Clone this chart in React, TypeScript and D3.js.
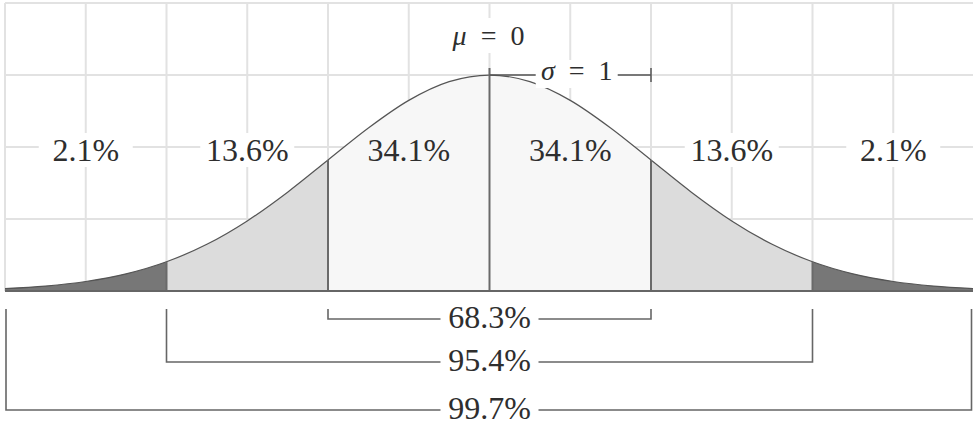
import React from "react";
import * as d3 from "d3";

// ---- data ----
const curveX = [-3, -2.75, -2.5, -2.25, -2, -1.75, -1.5, -1.25, -1, -0.75, -0.5, -0.25, 0, 0.25, 0.5, 0.75, 1, 1.25, 1.5, 1.75, 2, 2.25, 2.5, 2.75, 3];
const curveY = [0.0044, 0.0091, 0.0175, 0.0317, 0.054, 0.0863, 0.1295, 0.1826, 0.242, 0.3011, 0.3521, 0.3867, 0.3989, 0.3867, 0.3521, 0.3011, 0.242, 0.1826, 0.1295, 0.0863, 0.054, 0.0317, 0.0175, 0.0091, 0.0044];
const regionBounds = [-3, -2, -1, 0, 1, 2, 3];
const regionLabels = ["2.1%", "13.6%", "34.1%", "34.1%", "13.6%", "2.1%"];
const bracketSigmas = [1, 2, 3];
const bracketLabels = ["68.3%", "95.4%", "99.7%"];
const gridX = [-3, -2.5, -2, -1.5, -1, -0.5, 0, 0.5, 1, 1.5, 2, 2.5, 3];
const gridY = [0, 0.133, 0.266, 0.399, 0.532];

const W = 973;
const H = 424;
const regionFills = ["#777777", "#dcdcdc", "#f7f7f7", "#f7f7f7", "#dcdcdc", "#777777"];
const FONT = "'Liberation Serif', 'Times New Roman', serif";
const TEXT = "#2e2e2e";

export default function App() {
  const x = d3.scaleLinear().domain([-3, 3]).range([5, 974]);
  const y = d3.scaleLinear().domain([0, 0.532]).range([291, 3]);
  const pts: [number, number][] = curveX.map((v, i) => [v, curveY[i]]);
  const area = d3
    .area<[number, number]>()
    .x((d) => x(d[0]))
    .y0(y(0))
    .y1((d) => y(d[1]))
    .curve(d3.curveMonotoneX);
  const line = d3
    .line<[number, number]>()
    .x((d) => x(d[0]))
    .y((d) => y(d[1]))
    .curve(d3.curveMonotoneX);
  const areaPath = area(pts) || "";
  const linePath = line(pts) || "";
  const pdfAt = (v: number) => {
    const i = curveX.indexOf(v);
    return i >= 0 ? curveY[i] : 0;
  };
  const labelY = 161;
  const bracketTop = 309;
  const bracketLineY = [319, 362, 410];
  const bracketStroke = "#666";

  return (
    <svg width={W} height={H} style={{ position: "absolute", left: 0, top: 0, background: "#fff" }}>
      <defs>
        {regionLabels.map((_, i) => (
          <clipPath id={`reg${i}`} key={i}>
            <rect x={x(regionBounds[i])} y={0} width={x(regionBounds[i + 1]) - x(regionBounds[i])} height={H} />
          </clipPath>
        ))}
      </defs>
      {/* grid */}
      <g stroke="#e2e2e2" strokeWidth={2}>
        {gridX.map((g) => (
          <line key={"gx" + g} x1={x(g)} x2={x(g)} y1={y(0.532)} y2={y(0)} />
        ))}
        {gridY.map((g) => (
          <line key={"gy" + g} x1={x(-3)} x2={x(3)} y1={y(g)} y2={y(g)} />
        ))}
      </g>
      {/* white boxes behind labels that sit on the grid */}
      {regionLabels.map((l, i) => {
        const mid = (regionBounds[i] + regionBounds[i + 1]) / 2;
        if (Math.abs(mid) < 1) return null;
        return <rect key={"box" + i} x={x(mid) - 47} y={133} width={94} height={34} fill="#fff" />;
      })}
      <rect x={x(0) - 40} y={18} width={80} height={35} fill="#fff" />
      {/* fills */}
      {regionLabels.map((_, i) => (
        <path key={"fill" + i} d={areaPath} fill={regionFills[i]} clipPath={`url(#reg${i})`} />
      ))}
      {/* curve */}
      <path d={linePath} fill="none" stroke="#555" strokeWidth={1.2} />
      {/* dividers */}
      {regionBounds.slice(1, -1).map((b) => (
        <line
          key={"div" + b}
          x1={x(b)}
          x2={x(b)}
          y1={b === 0 ? 68 : y(pdfAt(b))}
          y2={y(0)}
          stroke="#6a6a6a"
          strokeWidth={2}
        />
      ))}
      {/* baseline */}
      <line x1={x(-3)} x2={W} y1={y(0)} y2={y(0)} stroke="#666" strokeWidth={2} />
      {/* sigma bracket */}
      <line x1={x(0)} x2={x(1)} y1={y(0.3989)} y2={y(0.3989)} stroke="#555" strokeWidth={1.5} />
      <line x1={x(1)} x2={x(1)} y1={68} y2={82} stroke="#555" strokeWidth={1.5} />
      <rect x={x(0.54) - 41} y={60} width={82} height={28} fill="#fff" />
      <text x={x(0.54)} y={80} textAnchor="middle" style={{ fontFamily: FONT }} fontSize={28} fill={TEXT}>
        <tspan fontStyle="italic">σ</tspan>
        {"\u2002=\u20021"}
      </text>
      {/* mean label */}
      <text x={x(0) - 1} y={45} textAnchor="middle" style={{ fontFamily: FONT }} fontSize={28} fill={TEXT}>
        <tspan fontStyle="italic">μ</tspan>
        {"\u2002=\u20020"}
      </text>
      {/* region labels */}
      {regionLabels.map((l, i) => {
        const mid = (regionBounds[i] + regionBounds[i + 1]) / 2;
        return (
          <text key={"lbl" + i} x={x(mid)} y={labelY} textAnchor="middle" style={{ fontFamily: FONT }} fontSize={32} fill={TEXT}>
            {l}
          </text>
        );
      })}
      {/* bottom brackets */}
      {bracketSigmas.map((s, i) => {
        const ly = bracketLineY[i];
        const xl = Math.max(x(-s), 6);
        const xr = Math.min(x(s), 971.5);
        return (
          <g key={"br" + s}>
            <path
              d={`M${xl},${bracketTop}V${ly}H${xr}V${bracketTop}`}
              fill="none"
              stroke={bracketStroke}
              strokeWidth={1.6}
            />
            <rect x={x(0) - 49} y={ly - 14} width={98} height={28} fill="#fff" />
            <text x={x(0)} y={ly + 9} textAnchor="middle" style={{ fontFamily: FONT }} fontSize={32} fill={TEXT}>
              {bracketLabels[i]}
            </text>
          </g>
        );
      })}
    </svg>
  );
}
